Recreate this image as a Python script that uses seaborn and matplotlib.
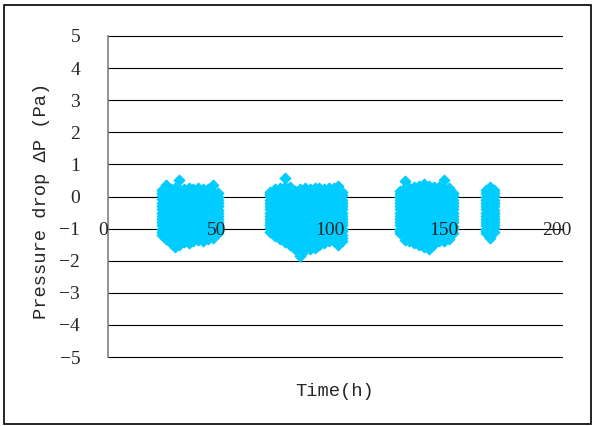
import pandas as pd
import matplotlib.pyplot as plt
import seaborn as sns
from matplotlib.patches import Rectangle
from matplotlib.transforms import ScaledTranslation

# each run: reading times (h) and the pressure drops logged around that time (Pa)
run1_time = [23.8, 25.6, 27.7, 29.6, 31.3, 33.4, 35.5, 37.6, 39.8, 41.9, 44.0, 46.3, 48.5]
run1_dp = [
    [-1.20, -1.10, -1.01, -0.90, -0.79, -0.70, -0.61, -0.50, -0.40, -0.29, -0.19, -0.09, 0.01, 0.10, 0.20],
    [-1.32, -1.11, -0.90, -0.69, -0.51, -0.30, -0.09, 0.11, 0.36],
    [-1.45, -1.21, -1.00, -0.81, -0.59, -0.40, -0.21, 0.02, 0.22],
    [-1.57, -1.31, -1.10, -0.89, -0.71, -0.50, -0.29, -0.10, 0.09, 0.26],
    [-1.50, -1.39, -1.19, -0.99, -0.80, -0.61, -0.40, -0.20, 0.01, 0.22, 0.51],
    [-1.42, -1.29, -1.10, -0.91, -0.70, -0.49, -0.30, -0.11, 0.09, 0.24],
    [-1.46, -1.21, -1.00, -0.80, -0.60, -0.41, -0.19, 0.00, 0.18, 0.27],
    [-1.38, -1.11, -0.90, -0.70, -0.49, -0.31, -0.10, 0.09, 0.23],
    [-1.36, -1.19, -1.00, -0.79, -0.61, -0.40, -0.20, 0.01, 0.25],
    [-1.38, -1.29, -1.10, -0.91, -0.70, -0.50, -0.29, -0.11, 0.10, 0.22],
    [-1.33, -1.20, -1.01, -0.80, -0.59, -0.40, -0.21, 0.00, 0.24],
    [-1.28, -1.10, -0.89, -0.71, -0.50, -0.31, -0.10, 0.11, 0.36],
    [-1.15, -1.08, -0.99, -0.90, -0.80, -0.70, -0.60, -0.51, -0.41, -0.30, -0.20, -0.10, 0.00, 0.12],
]

run2_time = [71.5, 73.6, 75.7, 77.9, 80.0, 82.2, 84.6, 86.8,
             88.9, 91.0, 93.1, 95.2, 97.3, 99.4, 101.4, 103.3]
run2_dp = [
    [-1.10, -0.99, -0.90, -0.80, -0.70, -0.61, -0.50, -0.40, -0.30, -0.20, -0.10, 0.01, 0.08, 0.15],
    [-1.22, -1.11, -0.90, -0.70, -0.51, -0.29, -0.10, 0.09, 0.22],
    [-1.32, -1.20, -1.01, -0.80, -0.59, -0.40, -0.21, 0.00, 0.19, 0.28],
    [-1.42, -1.30, -1.10, -0.89, -0.70, -0.51, -0.30, -0.09, 0.10, 0.29, 0.57],
    [-1.50, -1.40, -1.19, -1.00, -0.79, -0.60, -0.41, -0.20, 0.00, 0.19, 0.30],
    [-1.62, -1.49, -1.30, -1.11, -0.90, -0.70, -0.49, -0.31, -0.10, 0.09, 0.18],
    [-1.85, -1.61, -1.40, -1.20, -1.00, -0.81, -0.60, -0.40, -0.19, 0.00, 0.22],
    [-1.66, -1.50, -1.31, -1.09, -0.90, -0.71, -0.50, -0.30, -0.11, 0.10, 0.26],
    [-1.62, -1.41, -1.20, -1.01, -0.80, -0.59, -0.40, -0.20, 0.01, 0.22],
    [-1.60, -1.49, -1.29, -1.10, -0.90, -0.71, -0.50, -0.30, -0.09, 0.10, 0.25],
    [-1.50, -1.40, -1.21, -1.00, -0.80, -0.61, -0.40, -0.19, 0.00, 0.20, 0.28],
    [-1.45, -1.30, -1.10, -0.91, -0.70, -0.50, -0.29, -0.10, 0.09, 0.22],
    [-1.38, -1.20, -1.01, -0.79, -0.60, -0.40, -0.21, 0.00, 0.25],
    [-1.40, -1.29, -1.10, -0.90, -0.71, -0.50, -0.30, -0.11, 0.10, 0.28],
    [-1.52, -1.40, -1.20, -1.00, -0.81, -0.60, -0.39, -0.20, 0.01, 0.20, 0.33],
    [-1.38, -1.29, -1.19, -1.09, -1.00, -0.90, -0.80, -0.70, -0.61, -0.51, -0.40, -0.30, -0.20, -0.10, 0.06, 0.15],
]

run3_time = [128.6, 130.7, 132.8, 135.0, 137.1, 139.3, 141.4, 143.5, 145.7, 147.9, 150.0, 152.0]
run3_dp = [
    [-1.15, -1.09, -1.00, -0.90, -0.80, -0.70, -0.61, -0.50, -0.40, -0.30, -0.19, -0.10, 0.00, 0.09, 0.18],
    [-1.35, -1.11, -0.90, -0.70, -0.50, -0.31, -0.09, 0.10, 0.28, 0.48],
    [-1.40, -1.21, -1.00, -0.80, -0.61, -0.40, -0.20, 0.01, 0.20, 0.28],
    [-1.44, -1.29, -1.10, -0.89, -0.70, -0.50, -0.31, -0.10, 0.11, 0.31],
    [-1.50, -1.40, -1.20, -1.01, -0.80, -0.60, -0.41, -0.20, 0.00, 0.20, 0.34],
    [-1.56, -1.30, -1.09, -0.90, -0.70, -0.51, -0.30, -0.10, 0.10, 0.29, 0.40],
    [-1.62, -1.41, -1.20, -1.00, -0.79, -0.60, -0.40, -0.21, 0.00, 0.20, 0.34],
    [-1.48, -1.30, -1.10, -0.91, -0.70, -0.49, -0.30, -0.10, 0.09, 0.29],
    [-1.40, -1.20, -1.01, -0.80, -0.60, -0.40, -0.19, 0.00, 0.20, 0.31],
    [-1.38, -1.29, -1.10, -0.90, -0.71, -0.50, -0.30, -0.11, 0.10, 0.27, 0.52],
    [-1.32, -1.19, -1.00, -0.80, -0.60, -0.41, -0.20, 0.01, 0.20, 0.28],
    [-1.15, -1.01, -0.91, -0.80, -0.70, -0.60, -0.50, -0.40, -0.31, -0.20, -0.10, 0.01, 0.12],
]

run4_time = [166.5, 168.3, 170.0]
run4_dp = [
    [-1.15, -1.09, -1.00, -0.90, -0.80, -0.70, -0.60, -0.50, -0.40, -0.30, -0.20, -0.10, 0.00, 0.10, 0.20],
    [-1.30, -1.10, -0.90, -0.71, -0.50, -0.30, -0.10, 0.11, 0.30],
    [-1.12, -0.99, -0.90, -0.80, -0.70, -0.60, -0.51, -0.41, -0.30, -0.20, -0.10, 0.01, 0.10, 0.19],
]

x_ticks = [0, 50, 100, 150, 200]
y_ticks = [-5, -4, -3, -2, -1, 0, 1, 2, 3, 4, 5]


def to_frame(times, readings):
    rows = [(t, v) for t, col in zip(times, readings) for v in col]
    return pd.DataFrame(rows, columns=["time", "dp"])


df = pd.concat([to_frame(run1_time, run1_dp), to_frame(run2_time, run2_dp),
                to_frame(run3_time, run3_dp), to_frame(run4_time, run4_dp)],
               ignore_index=True)

sns.set_style("white")
plt.rcParams["font.family"] = ["Liberation Serif", "DejaVu Serif"]
mono = ["Liberation Mono", "DejaVu Sans Mono"]

fig = plt.figure(figsize=(5.96, 4.26), dpi=100)
pos = [108 / 596, 69 / 426, 454 / 596, 321 / 426]
ax = fig.add_axes(pos)

# excel style gridlines, kept under the markers
for y in y_ticks:
    ax.axhline(y, color="black", lw=0.8, zorder=0.5, clip_on=False)

sns.scatterplot(data=df, x="time", y="dp", marker="D", color="#00CCFF",
                s=30, edgecolor="#00CCFF", linewidth=0.8, ax=ax, zorder=1)

ax.set_xlim(0, 200)
ax.set_ylim(-5, 5)
ax.set_xticks(x_ticks)
ax.set_yticks(y_ticks)
ax.set_axisbelow(True)
ax.grid(False)
ax.spines["top"].set_visible(False)
ax.spines["right"].set_visible(False)
ax.spines["bottom"].set_position(("data", 0))
ax.spines["bottom"].set_visible(False)
ax.spines["left"].set_color("#808080")
ax.spines["left"].set_linewidth(1.2)
ax.tick_params(axis="x", direction="in", length=6, width=0.8, color="black",
               labelbottom=False)
ax.tick_params(axis="y", direction="in", length=5, width=0.8, color="black",
               pad=20, labelsize=14)

ax.set_xlabel("Time(h)", family=mono, fontsize=13.5)
ax.xaxis.set_label_coords(0.5, -0.081)
ax.set_ylabel("Pressure drop ΔP (Pa)", family=mono, fontsize=13.5)
ax.yaxis.set_label_coords(-0.128, 0.486)

# second transparent axes so the time labels sit on top of the markers
ax_lab = fig.add_axes(pos, sharex=ax, sharey=ax)
ax_lab.patch.set_visible(False)
for sp in ax_lab.spines.values():
    sp.set_visible(False)
ax_lab.spines["bottom"].set_position(("data", 0))
ax_lab.tick_params(axis="x", length=0, pad=18.5, labelsize=14)
ax_lab.tick_params(axis="y", left=False, labelleft=False)
ax_lab.set_xlabel("")
ax_lab.set_ylabel("")
shift = ScaledTranslation(-5 / 100, 0, fig.dpi_scale_trans)
for lab in ax_lab.get_xticklabels():
    lab.set_transform(lab.get_transform() + shift)

fig.add_artist(Rectangle((0.0075, 0.005), 0.984, 0.984, transform=fig.transFigure,
                         fill=False, edgecolor="black", lw=1.2))

fig.savefig("out.png", dpi=100)
